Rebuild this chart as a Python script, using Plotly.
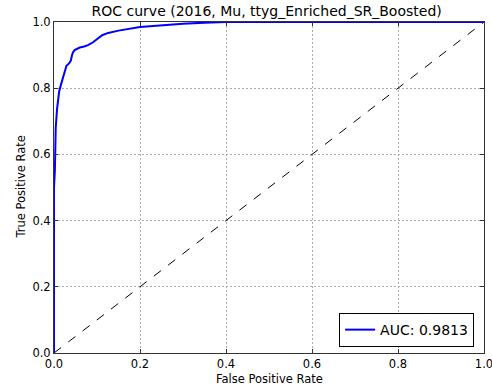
import plotly.graph_objects as go

fpr = [0.0, 0.0, 0.002, 0.004, 0.007, 0.009, 0.012, 0.016, 0.021, 0.026, 0.029, 0.035,
       0.039, 0.042, 0.044, 0.048, 0.052, 0.06, 0.07, 0.079, 0.09, 0.098, 0.105, 0.112,
       0.126, 0.15, 0.2, 0.25, 0.3, 0.35, 0.4, 1.0]
tpr = [0.0, 0.50, 0.55, 0.68, 0.736, 0.76, 0.79, 0.81, 0.83, 0.85, 0.868, 0.875,
       0.883, 0.90, 0.908, 0.915, 0.918, 0.923, 0.926, 0.930, 0.938, 0.947, 0.955, 0.96,
       0.967, 0.974, 0.985, 0.991, 0.995, 0.998, 1.0, 1.0]
diag = [0.0, 1.0]
auc_label = "AUC: 0.9813"
title = "ROC curve (2016, Mu, ttyg_Enriched_SR_Boosted)"
x_title = "False Positive Rate"
y_title = "True Positive Rate"
ticks = [0.0, 0.2, 0.4, 0.6, 0.8, 1.0]
tick_text = ["0.0", "0.2", "0.4", "0.6", "0.8", "1.0"]

fig = go.Figure()
fig.add_trace(go.Scatter(x=diag, y=diag, mode="lines", showlegend=False,
                         line=dict(color="black", width=1, dash="dash")))
fig.add_trace(go.Scatter(x=fpr, y=tpr, mode="lines", name=auc_label,
                         line=dict(color="#0000ff", width=2)))

font = "DejaVu Sans"
axis_common = dict(
    range=[0, 1], tickvals=ticks, ticktext=tick_text, automargin=False,
    ticklabeloverflow="allow",
    showline=True, linecolor="#333333", linewidth=1, mirror="allticks",
    ticks="inside", ticklen=4, tickcolor="#333333",
    showgrid=True, gridcolor="#aaaaaa", griddash="2px,2px", gridwidth=1,
    zeroline=False, tickfont=dict(family=font, size=11.5, color="black"),
)
fig.update_layout(
    width=492, height=387,
    margin=dict(l=54, r=8, t=22, b=34),
    paper_bgcolor="white", plot_bgcolor="white",
    title=dict(text=title, x=0.542, xanchor="center", y=0.985, yanchor="top",
               font=dict(family=font, size=14, color="black")),
    xaxis=axis_common,
    yaxis=axis_common,
    legend=dict(x=0.977, y=0.018, xanchor="right", yanchor="bottom",
                bgcolor="white", bordercolor="black", borderwidth=1, itemwidth=30,
                font=dict(family=font, size=14, color="black")),
    annotations=[
        dict(text=x_title, xref="paper", yref="paper", x=0.5, y=-0.079,
             xanchor="center", yanchor="middle", showarrow=False,
             font=dict(family=font, size=11.5, color="black")),
        dict(text=y_title, xref="paper", yref="paper", x=-0.079, y=0.5,
             xanchor="center", yanchor="middle", showarrow=False, textangle=-90,
             font=dict(family=font, size=11.5, color="black")),
    ],
)
fig.write_html("out.html")
